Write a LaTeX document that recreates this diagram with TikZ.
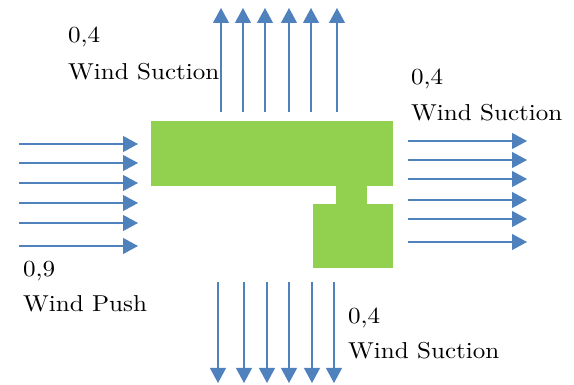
\documentclass[tikz,border=0pt]{standalone}
\usepackage{tikz}
\usepackage{fontspec}
\setmainfont{lmroman10-regular.otf}[FakeStretch=1.09]
\usetikzlibrary{arrows.meta}
\definecolor{windblue}{RGB}{79,129,189}
\definecolor{wallgreen}{RGB}{146,208,80}
\tikzstyle{wall} = [fill=wallgreen, draw=none]
\tikzstyle{wind} = [draw=windblue, line width=1.1pt,
    -{Triangle[length=15pt,width=16pt,fill=windblue]}]
\tikzstyle{load} = [anchor=base west, inner sep=0pt,
    font=\fontsize{23}{28}\selectfont]

\begin{document}
\begin{tikzpicture}[x=1pt, y=-1pt]
    \useasboundingbox (0,0) rectangle (574,385);
    % Place the building
    \path [wall] (151,121) rectangle (393,186);
    \path [wall] (336,185) rectangle (367,205);
    \path [wall] (313,204) rectangle (393,268);
    % Wind arrows
    \foreach \x in {221,243,265,289,311,337}
        \draw [wind] (\x,112) -- (\x,8);
    \foreach \x in {218,244,267,289,312,334}
        \draw [wind] (\x,282) -- (\x,383);
    \foreach \y in {144,163,183,203,223,246}
        \draw [wind] (19,\y) -- (138,\y);
    \foreach \y in {141,160,179,200,219,242}
        \draw [wind] (408,\y) -- (527,\y);
    % Place labels
    \node [load] (topval) at (68,43) {0,4};
    \node [load] (toptext) at (68,80) {Wind Suction};
    \node [load] (rightval) at (411,85) {0,4};
    \node [load] (righttext) at (411,121) {Wind Suction};
    \node [load] (leftval) at (23,277) {0,9};
    \node [load] (lefttext) at (23,312) {Wind Push};
    \node [load] (bottomval) at (348,324) {0,4};
    \node [load] (bottomtext) at (348,359) {Wind Suction};
\end{tikzpicture}
\end{document}
